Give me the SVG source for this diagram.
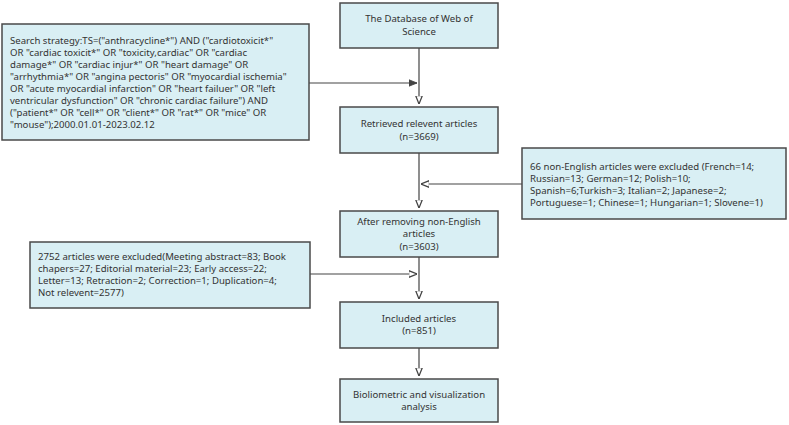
<svg xmlns="http://www.w3.org/2000/svg" width="789" height="425" viewBox="0 0 789 425">
<style>
.b{fill:#d9eff4;stroke:#4a4a4a;stroke-width:1.5}
text{font-family:"Noto Sans","Liberation Sans",sans-serif;font-size:9.6px;fill:#333}
.c{text-anchor:middle}
.l{stroke:#444;stroke-width:1.2;fill:none}
</style>
<defs>
<marker id="a" viewBox="0 0 10 10" refX="10" refY="5" markerWidth="7" markerHeight="7" orient="auto"><path d="M0,1 L10,5 L0,9 Z" fill="#fff" stroke="#444" stroke-width="1.5"/></marker>
<marker id="f" viewBox="0 0 10 10" refX="10" refY="5" markerWidth="7" markerHeight="7" orient="auto"><path d="M0,1 L10,5 L0,9 Z" fill="#444" stroke="#444"/></marker>
</defs>
<rect width="789" height="425" fill="#fff"/>
<g id="connectors">
<path class="l" d="M419,48 V104" marker-end="url(#a)"/>
<path class="l" d="M309,83 H417" marker-end="url(#f)"/>
<path class="l" d="M419,153 V208" marker-end="url(#a)"/>
<path class="l" d="M522,184 H421" marker-end="url(#a)"/>
<path class="l" d="M419,257 V299" marker-end="url(#a)"/>
<path class="l" d="M310,274 H417" marker-end="url(#a)"/>
<path class="l" d="M419,348 V376" marker-end="url(#a)"/>
</g>
<g id="n1"><rect class="b" x="340" y="3" width="158" height="45"/><text class="c" x="419" y="22">The Database of Web of</text><text class="c" x="419" y="35">Science</text></g>
<g id="n2"><rect class="b" x="340" y="107" width="158" height="46"/><text class="c" x="419" y="127">Retrieved relevent articles</text><text class="c" x="419" y="140">(n=3669)</text></g>
<g id="n3"><rect class="b" x="340" y="211" width="158" height="46"/><text class="c" x="419" y="225">After removing non-English</text><text class="c" x="419" y="237">articles</text><text class="c" x="419" y="250">(n=3603)</text></g>
<g id="n4"><rect class="b" x="340" y="302" width="158" height="46"/><text class="c" x="419" y="322">Included articles</text><text class="c" x="419" y="334">(n=851)</text></g>
<g id="n5"><rect class="b" x="340" y="379" width="158" height="43"/><text class="c" x="419" y="398">Bioliometric and visualization</text><text class="c" x="419" y="410">analysis</text></g>
<g id="search"><rect class="b" x="2" y="24" width="307" height="116"/>
<text x="10" y="44">Search strategy:TS=("anthracycline*") AND ("cardiotoxicit*"</text>
<text x="10" y="56">OR "cardiac toxicit*" OR "toxicity,cardiac" OR "cardiac</text>
<text x="10" y="68">damage*" OR "cardiac injur*" OR "heart damage" OR</text>
<text x="10" y="80">"arrhythmia*" OR "angina pectoris" OR "myocardial ischemia"</text>
<text x="10" y="92">OR "acute myocardial infarction" OR "heart failuer" OR "left</text>
<text x="10" y="104">ventricular dysfunction" OR "chronic cardiac failure") AND</text>
<text x="10" y="116">("patient*" OR "cell*" OR "client*" OR "rat*" OR "mice" OR</text>
<text x="10" y="128">"mouse");2000.01.01-2023.02.12</text></g>
<g id="nonen"><rect class="b" x="522" y="148" width="264" height="71"/>
<text x="530" y="170">66 non-English articles were excluded (French=14;</text>
<text x="530" y="182">Russian=13; German=12; Polish=10;</text>
<text x="530" y="194">Spanish=6;Turkish=3; Italian=2; Japanese=2;</text>
<text x="530" y="206">Portuguese=1; Chinese=1; Hungarian=1; Slovene=1)</text></g>
<g id="excl"><rect class="b" x="30" y="242" width="280" height="66"/>
<text x="38" y="260">2752 articles were excluded(Meeting abstract=83; Book</text>
<text x="38" y="272">chapers=27; Editorial material=23; Early access=22;</text>
<text x="38" y="284">Letter=13; Retraction=2; Correction=1; Duplication=4;</text>
<text x="38" y="296">Not relevent=2577)</text></g>
</svg>
